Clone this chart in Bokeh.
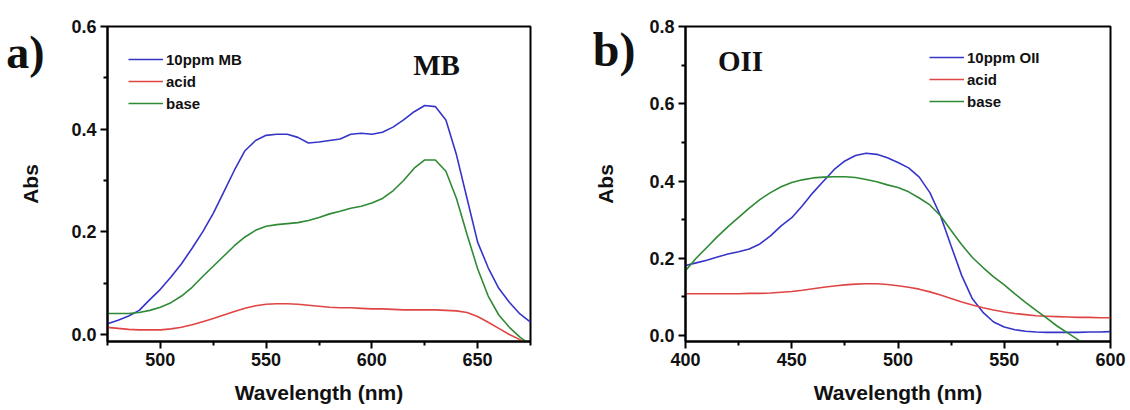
from bokeh.plotting import figure
from bokeh.layouts import row
from bokeh.models import (Range1d, FixedTicker, PrintfTickFormatter, Legend, LegendItem, Label,
                          LinearAxis)
from bokeh.embed import file_html
from bokeh.resources import INLINE

# ---------------- data: panel a (MB) ----------------
wl_a = list(range(475, 680, 5))
mb_dye = [0.021, 0.028, 0.036, 0.047, 0.068, 0.088, 0.112, 0.138, 0.168, 0.2,
          0.236, 0.278, 0.32, 0.358, 0.378, 0.388, 0.39, 0.39, 0.384, 0.373,
          0.375, 0.378, 0.381, 0.39, 0.392, 0.39, 0.394, 0.404, 0.418, 0.434,
          0.446, 0.444, 0.418, 0.35, 0.265, 0.18, 0.13, 0.09, 0.063, 0.04, 0.024]
mb_acid = [0.014, 0.012, 0.01, 0.009, 0.009, 0.009, 0.011, 0.014, 0.019, 0.025,
           0.031, 0.038, 0.045, 0.051, 0.056, 0.059, 0.06, 0.06, 0.059, 0.057,
           0.055, 0.053, 0.052, 0.052, 0.051, 0.05, 0.05, 0.049, 0.048, 0.048,
           0.048, 0.048, 0.047, 0.046, 0.043, 0.035, 0.024, 0.012, 0.0, -0.01, -0.02]
mb_base = [0.041, 0.041, 0.041, 0.043, 0.047, 0.053, 0.062, 0.075, 0.092, 0.113,
           0.133, 0.153, 0.173, 0.19, 0.203, 0.211, 0.214, 0.216, 0.218, 0.222,
           0.228, 0.235, 0.24, 0.246, 0.25, 0.256, 0.265, 0.28, 0.3, 0.324,
           0.34, 0.34, 0.318, 0.265, 0.195, 0.128, 0.075, 0.038, 0.014, -0.005, -0.02]

# ---------------- data: panel b (OII) ----------------
wl_b = list(range(400, 605, 5))
oii_dye = [0.181, 0.188, 0.195, 0.203, 0.211, 0.217, 0.224, 0.237, 0.258, 0.284,
           0.305, 0.336, 0.37, 0.4, 0.43, 0.452, 0.466, 0.472, 0.469, 0.46,
           0.448, 0.434, 0.41, 0.37, 0.31, 0.232, 0.155, 0.095, 0.06, 0.035,
           0.022, 0.015, 0.011, 0.009, 0.008, 0.008, 0.008, 0.008, 0.009, 0.009, 0.01]
oii_acid = [0.108, 0.108, 0.108, 0.108, 0.108, 0.108, 0.109, 0.109, 0.11, 0.112,
            0.114, 0.117, 0.121, 0.125, 0.128, 0.131, 0.133, 0.134, 0.134, 0.132,
            0.129, 0.125, 0.12, 0.113, 0.105, 0.096, 0.087, 0.079, 0.072, 0.066,
            0.061, 0.057, 0.054, 0.051, 0.05, 0.049, 0.048, 0.047, 0.047, 0.046, 0.046]
oii_base = [0.168, 0.2, 0.228, 0.256, 0.282, 0.306, 0.33, 0.352, 0.37, 0.385,
            0.396, 0.403, 0.408, 0.41, 0.411, 0.411, 0.409, 0.404, 0.398, 0.39,
            0.383, 0.372, 0.356, 0.338, 0.31, 0.272, 0.235, 0.202, 0.176, 0.152,
            0.131, 0.108, 0.086, 0.065, 0.045, 0.024, 0.006, -0.012, -0.025, -0.04, -0.055]

labels_a = ["10ppm MB", "acid", "base"]
labels_b = ["10ppm OII", "acid", "base"]
x_ticks_a = [500, 550, 600, 650]
x_minor_a = [475, 525, 575, 625, 675]
x_ticks_b = [400, 450, 500, 550, 600]
x_minor_b = [425, 475, 525, 575]
y_ticks_a = [0.0, 0.2, 0.4, 0.6]
y_minor_a = [0.1, 0.3, 0.5]
y_ticks_b = [0.0, 0.2, 0.4, 0.6, 0.8]
y_minor_b = [0.1, 0.3, 0.5, 0.7]

C_BLUE = "#3535c8"
C_RED = "#e04545"
C_GREEN = "#2f8a35"
SANS = "Liberation Sans"
SERIF = "Liberation Serif"


def make_panel(xr, yr, xt, xm, yt, ym, width, bl, br, bb):
    p = figure(width=width, height=410, output_backend="svg", toolbar_location=None,
               x_range=Range1d(*xr), y_range=Range1d(*yr),
               min_border_left=bl, min_border_right=br, min_border_top=26,
               min_border_bottom=bb)
    p.xgrid.visible = False
    p.ygrid.visible = False
    p.outline_line_color = "black"
    p.outline_line_width = 2
    p.outline_line_alpha = 1.0
    p.background_fill_color = "white"
    p.border_fill_color = "white"
    for ax in (p.xaxis[0], p.yaxis[0]):
        ax.axis_line_width = 2
        ax.major_tick_line_width = 2
        ax.minor_tick_line_width = 2
        ax.major_tick_out = 7
        ax.major_tick_in = 0
        ax.minor_tick_out = 4
        ax.minor_tick_in = 0
        ax.major_label_text_font = SANS
        ax.major_label_text_font_style = "bold"
        ax.major_label_text_font_size = "18px"
        ax.major_label_text_color = "#111111"
        ax.axis_label_text_font = SANS
        ax.axis_label_text_font_style = "bold"
        ax.axis_label_text_font_size = "21px"
        ax.axis_label_text_color = "#111111"
    p.xaxis[0].ticker = FixedTicker(ticks=xt, minor_ticks=xm)
    p.yaxis[0].ticker = FixedTicker(ticks=yt, minor_ticks=ym)
    p.xaxis[0].formatter = PrintfTickFormatter(format="%d")
    p.yaxis[0].formatter = PrintfTickFormatter(format="%.1f")
    p.xaxis[0].axis_label = "Wavelength (nm)"
    p.xaxis[0].major_label_standoff = 4
    p.yaxis[0].major_label_standoff = 4
    p.xaxis[0].axis_label_standoff = 12
    return p


def add_outer_axis(p, tag, tag_y, tag_size, tag_standoff, abs_standoff):
    # outer left axis: carries the panel tag ("a)"/"b)") and the "Abs" title
    ax = LinearAxis(ticker=FixedTicker(ticks=[tag_y], minor_ticks=[]),
                    formatter=PrintfTickFormatter(format=tag),
                    axis_line_color=None, major_tick_line_color=None,
                    minor_tick_line_color=None, major_tick_out=0, major_tick_in=0,
                    major_label_standoff=tag_standoff,
                    major_label_text_font=SERIF, major_label_text_font_style="bold",
                    major_label_text_font_size=tag_size,
                    major_label_text_color="#111111",
                    axis_label="Abs", axis_label_standoff=abs_standoff,
                    axis_label_text_font=SANS, axis_label_text_font_style="bold",
                    axis_label_text_font_size="21px", axis_label_text_color="#111111")
    p.add_layout(ax, "left")


def add_legend(p, rends, labels, loc):
    items = [LegendItem(label=l, renderers=[r]) for l, r in zip(labels, rends)]
    lg = Legend(items=items, location=loc, padding=0, margin=0, spacing=2,
                glyph_width=35, glyph_height=20, label_height=20,
                label_standoff=3, border_line_color=None,
                background_fill_alpha=0.0,
                label_text_font=SANS, label_text_font_style="bold",
                label_text_font_size="15px", label_text_color="#111111")
    p.add_layout(lg, "center")


# panel a
pa = make_panel((475, 675), (-0.0136, 0.6), x_ticks_a, x_minor_a, y_ticks_a, y_minor_a,
                565, 107, 35, 68)
ra1 = pa.line(wl_a, mb_dye, line_color=C_BLUE, line_width=1.6)
ra2 = pa.line(wl_a, mb_acid, line_color=C_RED, line_width=1.6)
ra3 = pa.line(wl_a, mb_base, line_color=C_GREEN, line_width=1.6)
add_legend(pa, [ra1, ra2, ra3], labels_a, (21, 228))
add_outer_axis(pa, "a)", 0.55, "46px", 24, -39)
pa.add_layout(Label(x=329, y=277, x_units="screen", y_units="screen", text="MB",
                    text_font=SERIF, text_font_style="bold", text_font_size="29px",
                    text_baseline="middle", text_align="center", text_color="#111111"))

# panel b
pb = make_panel((400, 600), (-0.0155, 0.8), x_ticks_b, x_minor_b, y_ticks_b, y_minor_b,
                565, 120, 20, 69)
rb1 = pb.line(wl_b, oii_dye, line_color=C_BLUE, line_width=1.6)
rb2 = pb.line(wl_b, oii_acid, line_color=C_RED, line_width=1.6)
rb3 = pb.line(wl_b, oii_base, line_color=C_GREEN, line_width=1.6)
add_legend(pb, [rb1, rb2, rb3], labels_b, (244, 230))
add_outer_axis(pb, "b)", 0.74, "48px", 11, -27)
pb.add_layout(Label(x=55, y=281, x_units="screen", y_units="screen", text="OII",
                    text_font=SERIF, text_font_style="bold", text_font_size="29px",
                    text_baseline="middle", text_align="center", text_color="#111111"))

layout = row(pa, pb)
open("out.html", "w").write(file_html(layout, INLINE))
